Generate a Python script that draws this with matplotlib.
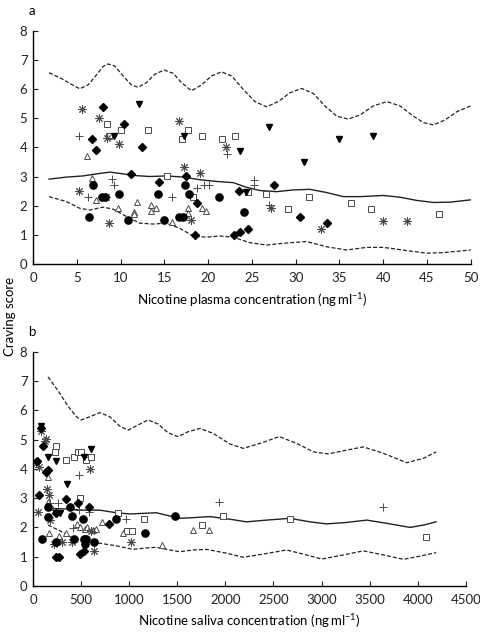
# Craving score vs nicotine concentration (plasma / saliva)

import matplotlib
matplotlib.use('Agg')
import matplotlib.pyplot as plt

plt.rcParams['font.family'] = ['Lato', 'DejaVu Sans']
plt.rcParams['mathtext.fontset'] = 'custom'
plt.rcParams['mathtext.rm'] = 'Lato'
plt.rcParams['mathtext.it'] = 'Lato'

# ---------------- panel a: plasma (ng/ml) ----------------
a_circle_x = [6.4, 6.9, 7.9, 8.2, 9.8, 10.9, 14.3, 15.0, 16.7, 17.1, 17.4, 17.8, 21.2, 24.1]
a_circle_y = [1.6, 2.71, 2.31, 2.31, 2.4, 1.5, 2.4, 1.5, 1.6, 1.6, 2.71, 2.4, 2.31, 1.8]

a_diamond_x = [7.96, 6.7, 7.2, 10.4, 12.5, 11.2, 14.4, 17.5, 18.7, 18.5, 23.0, 23.6, 24.5,
               23.5, 27.5, 30.5, 33.6]
a_diamond_y = [5.4, 4.3, 3.9, 4.79, 4.0, 3.1, 2.8, 3.01, 2.09, 1.0, 1.0, 1.1, 1.2,
               2.5, 2.7, 1.6, 1.4]

a_vtri_x = [12.1, 9.2, 17.2, 23.6, 27.0, 35.0, 38.8, 30.9, 24.3]
a_vtri_y = [5.48, 4.39, 4.38, 3.89, 4.69, 4.29, 4.38, 3.49, 2.48]

a_square_x = [8.5, 8.7, 10.1, 13.1, 17.0, 17.7, 19.3, 21.6, 23.1, 15.3, 18.3, 24.6, 26.6,
              29.1, 31.5, 36.3, 38.6, 46.4]
a_square_y = [4.79, 4.39, 4.6, 4.6, 4.3, 4.6, 4.39, 4.3, 4.39, 3.01, 2.31, 2.48, 2.4,
              1.9, 2.31, 2.1, 1.9, 1.7]

a_uptri_x = [6.2, 6.7, 7.2, 9.75, 11.9, 11.5, 11.5, 13.5, 13.5, 14.1, 15.9, 17.75, 17.75,
             19.3, 19.8]
a_uptri_y = [3.71, 2.94, 2.19, 1.91, 2.11, 1.79, 1.72, 2.02, 1.83, 1.91, 1.43, 1.91, 1.74,
             1.91, 1.82]

a_plus_x = [5.3, 22.2, 6.25, 9.0, 9.2, 15.9, 18.7, 19.5, 20.1, 25.2, 25.2, 27.0]
a_plus_y = [4.39, 3.78, 2.31, 2.91, 2.71, 2.31, 2.59, 2.71, 2.71, 2.88, 2.71, 2.02]

a_star_x = [5.6, 7.55, 8.46, 9.83, 16.7, 22.0, 5.22, 8.3, 8.65, 17.3, 19.1, 18.1, 27.2,
            32.9, 40.0, 42.7]
a_star_y = [5.3, 5.0, 4.31, 4.11, 4.91, 4.01, 2.52, 2.31, 1.4, 3.31, 3.11, 1.51, 1.91,
            1.2, 1.48, 1.48]

a_up_x = [1.83, 3.43, 4.57, 5.34, 6.29, 7.24, 8.0, 8.57, 9.34, 10.29, 11.24, 12.0, 12.96,
          13.91, 14.98, 16.01, 16.96, 18.1, 19.25, 20.39, 21.53, 22.68, 24.01, 25.34,
          26.68, 28.01, 29.34, 30.68, 32.01, 33.35, 34.68, 36.01, 37.35, 38.87, 40.4,
          41.92, 43.45, 44.59, 45.73, 47.07, 48.4, 50.0]
a_up_y = [6.56, 6.33, 6.13, 6.01, 6.14, 6.48, 6.77, 6.86, 6.79, 6.45, 6.14, 6.06, 6.22,
          6.51, 6.65, 6.54, 6.22, 5.94, 6.14, 6.45, 6.59, 6.45, 5.99, 5.57, 5.39, 5.57,
          5.87, 6.02, 5.85, 5.42, 5.07, 4.97, 5.11, 5.42, 5.57, 5.42, 5.07, 4.85, 4.77,
          4.94, 5.22, 5.42]

a_mean_x = [1.83, 3.81, 5.72, 7.24, 8.77, 10.29, 11.81, 13.34, 15.24, 17.15, 19.05, 20.96,
            22.87, 24.39, 25.91, 27.82, 29.73, 31.63, 33.54, 35.44, 37.35, 40.02, 41.92,
            43.83, 45.73, 47.64, 50.0]
a_mean_y = [2.91, 2.98, 3.02, 3.09, 3.15, 3.09, 3.03, 3.0, 3.02, 2.98, 2.89, 2.83, 2.79,
            2.63, 2.52, 2.48, 2.54, 2.56, 2.45, 2.31, 2.31, 2.35, 2.29, 2.18, 2.11, 2.12,
            2.2]

a_low_x = [1.83, 3.81, 5.34, 6.48, 8.0, 9.15, 10.67, 12.2, 13.72, 15.24, 16.77, 18.29,
           19.82, 21.34, 22.87, 24.77, 26.68, 28.58, 31.25, 33.54, 35.82, 38.11, 40.02,
           42.68, 44.97, 46.88, 50.0]
a_low_y = [2.31, 2.14, 1.91, 1.85, 1.95, 1.88, 1.63, 1.4, 1.37, 1.4, 1.22, 0.96, 0.92,
           0.96, 0.92, 0.73, 0.65, 0.71, 0.77, 0.59, 0.48, 0.57, 0.57, 0.46, 0.37, 0.39,
           0.48]

# ---------------- panel b: saliva (ng/ml) ----------------
b_circle_x = [97, 156, 156, 236, 382, 406, 427, 520, 531, 548, 538, 635, 867, 1165, 1478]
b_circle_y = [1.6, 2.69, 2.37, 1.51, 2.69, 2.4, 1.6, 2.29, 1.6, 1.6, 1.42, 1.51, 2.29, 1.8, 2.39]

b_diamond_x = [87, 100, 45, 139, 156, 62, 347, 468, 583, 236, 791, 236, 271, 493, 527]
b_diamond_y = [5.38, 4.79, 4.27, 3.88, 3.96, 3.11, 2.97, 2.82, 2.69, 2.48, 2.1, 0.98, 0.98,
               1.1, 1.2]

b_vtri_x = [87, 156, 243, 527, 600, 357, 243, 284]
b_vtri_y = [5.48, 4.4, 4.27, 4.39, 4.68, 3.47, 2.48, 2.48]

b_square_x = [243, 225, 347, 423, 468, 503, 555, 600, 486, 885, 982, 1030, 1155, 1755,
              1974, 2668, 4090]
b_square_y = [4.78, 4.58, 4.3, 4.41, 4.58, 4.58, 4.3, 4.41, 3.0, 2.5, 1.88, 1.88, 2.28,
              2.08, 2.39, 2.28, 1.68]

b_uptri_x = [156, 156, 167, 271, 347, 461, 486, 545, 562, 625, 659, 722, 933, 1339, 1668, 1835]
b_uptri_y = [3.73, 2.88, 1.8, 1.7, 1.8, 2.11, 2.02, 1.94, 2.02, 1.91, 1.93, 2.2, 1.82, 1.4,
             1.91, 1.91]

b_plus_x = [479, 174, 260, 208, 479, 583, 968, 416, 1939, 3635]
b_plus_y = [3.79, 2.82, 2.82, 2.59, 2.61, 2.53, 2.28, 1.97, 2.88, 2.69]

b_star_x = [87, 139, 121, 62, 35, 146, 167, 52, 180, 215, 305, 409, 590, 635, 1017, 607]
b_star_y = [5.3, 5.03, 4.95, 4.08, 4.2, 3.3, 3.1, 2.53, 2.27, 1.42, 1.5, 1.5, 3.98, 1.19,
            1.49, 1.88]

b_up_x = [156, 260, 364, 451, 503, 590, 694, 798, 902, 989, 1093, 1197, 1301, 1405, 1509,
          1614, 1735, 1874, 2047, 2186, 2360, 2561, 2741, 2915, 3071, 3262, 3435, 3644,
          3886, 4060, 4192]
b_up_y = [7.14, 6.67, 6.14, 5.78, 5.67, 5.78, 5.92, 5.78, 5.46, 5.32, 5.5, 5.67, 5.53,
          5.23, 5.1, 5.27, 5.38, 5.21, 4.85, 4.7, 4.87, 5.1, 4.87, 4.58, 4.51, 4.64, 4.75,
          4.53, 4.21, 4.36, 4.58]

b_mean_x = [156, 347, 521, 694, 868, 1006, 1145, 1284, 1423, 1527, 1700, 1839, 2047, 2221,
            2429, 2672, 2880, 3054, 3262, 3470, 3678, 3921, 4060, 4192]
b_mean_y = [2.65, 2.63, 2.59, 2.59, 2.5, 2.46, 2.48, 2.5, 2.39, 2.31, 2.34, 2.37, 2.28,
            2.19, 2.25, 2.31, 2.19, 2.12, 2.17, 2.25, 2.14, 2.0, 2.08, 2.19]

b_low_x = [156, 278, 399, 521, 694, 868, 1041, 1180, 1284, 1423, 1527, 1666, 1804, 2013,
           2186, 2394, 2637, 2845, 3002, 3227, 3435, 3644, 3852, 4025, 4192]
b_low_y = [2.08, 1.89, 1.66, 1.51, 1.46, 1.37, 1.25, 1.3, 1.32, 1.23, 1.17, 1.23, 1.25,
           1.12, 0.98, 1.09, 1.23, 1.06, 0.92, 1.06, 1.2, 1.06, 0.91, 1.02, 1.14]

a_xticks = list(range(0, 51, 5))
b_xticks = list(range(0, 4501, 500))
yticks = list(range(0, 9))

GREY = '#4a4a4a'
DASH = (0, (3.2, 1.6))


def scatter_groups(ax, groups):
    for x, y, style in groups:
        ax.plot(x, y, linestyle='none', **style)


def style_axis(ax, xticks, xlim):
    for side in ('top', 'right'):
        ax.spines[side].set_visible(False)
    for side in ('left', 'bottom'):
        ax.spines[side].set_linewidth(1.0)
    ax.set_xlim(xlim)
    ax.set_ylim(0, 8)
    ax.set_xticks(xticks)
    ax.set_yticks(yticks)
    ax.tick_params(direction='in', length=3.5, width=0.8, labelsize=9.5, pad=4,
                   colors='#222222')
    ax.tick_params(axis='x', pad=6)


circle = dict(marker='o', ms=5.2, mfc='black', mec='black')
diamond = dict(marker='D', ms=4.2, mfc='black', mec='black')
vtri = dict(marker='v', ms=5.0, mfc='black', mec='black')
square = dict(marker='s', ms=4.2, mfc='white', mec=GREY, mew=0.7)
uptri = dict(marker='^', ms=5.0, mfc='white', mec=GREY, mew=0.7)
plus = dict(marker='+', ms=6.0, mec=GREY, mew=0.7)
star = dict(marker=(8, 2, 0), ms=6.0, mec=GREY, mew=0.7)

fig = plt.figure(figsize=(4.8, 6.32), dpi=100)
ax1 = fig.add_axes([0.0688, 0.5823, 0.9119, 0.3691])
ax2 = fig.add_axes([0.0688, 0.0728, 0.9015, 0.3707])

# panel a
ax1.plot(a_up_x, a_up_y, color='#222222', lw=0.9, linestyle=DASH)
ax1.plot(a_mean_x, a_mean_y, color='#222222', lw=1.0)
ax1.plot(a_low_x, a_low_y, color='#222222', lw=0.9, linestyle=DASH)
scatter_groups(ax1, [
    (a_square_x, a_square_y, square),
    (a_uptri_x, a_uptri_y, uptri),
    (a_plus_x, a_plus_y, plus),
    (a_star_x, a_star_y, star),
    (a_circle_x, a_circle_y, circle),
    (a_diamond_x, a_diamond_y, diamond),
    (a_vtri_x, a_vtri_y, vtri),
])
style_axis(ax1, a_xticks, (0, 50))
ax1.set_xlabel('Nicotine plasma concentration (ng\u2009ml$^{\u22121}$)', fontsize=9.5,
               labelpad=5)

# panel b
ax2.plot(b_up_x, b_up_y, color='#222222', lw=0.9, linestyle=DASH)
ax2.plot(b_mean_x, b_mean_y, color='#222222', lw=1.0)
ax2.plot(b_low_x, b_low_y, color='#222222', lw=0.9, linestyle=DASH)
scatter_groups(ax2, [
    (b_square_x, b_square_y, square),
    (b_uptri_x, b_uptri_y, uptri),
    (b_plus_x, b_plus_y, plus),
    (b_star_x, b_star_y, star),
    (b_circle_x, b_circle_y, circle),
    (b_diamond_x, b_diamond_y, diamond),
    (b_vtri_x, b_vtri_y, vtri),
])
style_axis(ax2, b_xticks, (0, 4500))
ax2.set_xlabel('Nicotine saliva concentration (ng\u2009ml$^{\u22121}$)', fontsize=9.5,
               labelpad=4)

fig.text(31.5 / 480, 1 - 11 / 632, 'a', fontsize=9.5, ha='center', va='center')
fig.text(31.5 / 480, 1 - 332 / 632, 'b', fontsize=9.5, ha='center', va='center')
fig.text(10 / 480, 1 - 316 / 632, 'Craving score', fontsize=9.5, rotation=90,
         ha='center', va='center')

fig.savefig('out.png', dpi=100)
